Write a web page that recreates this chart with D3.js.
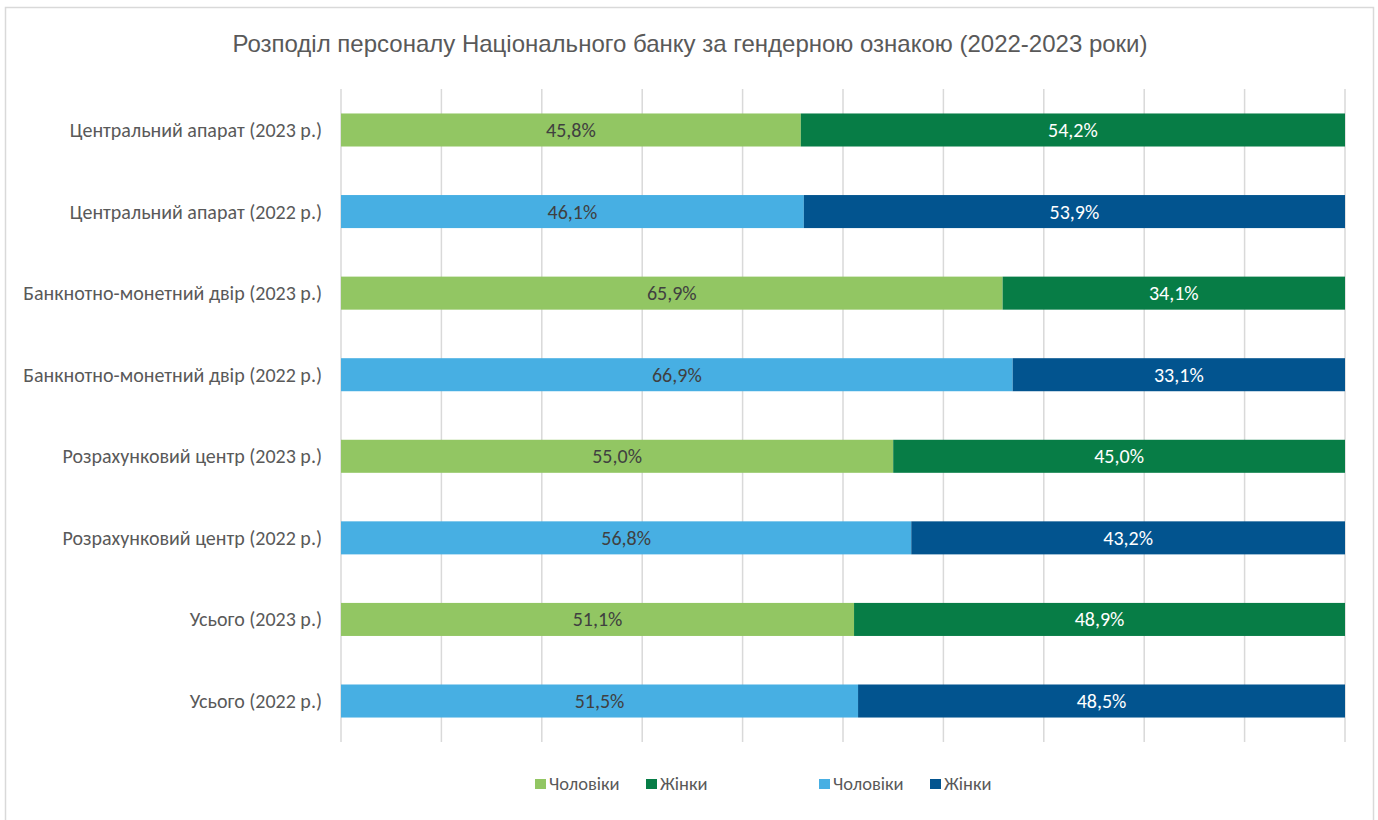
<!DOCTYPE html>
<html>
<head>
<meta charset="utf-8">
<script src="https://cdn.jsdelivr.net/npm/d3@7"></script>
<style>
  body { margin: 0; background: #fff; }
  svg { display: block; }
</style>
</head>
<body>
<div id="chart"></div>
<script>
// categories, top to bottom
var categories = [
  "Центральний апарат (2023 р.)",
  "Центральний апарат (2022 р.)",
  "Банкнотно-монетний двір (2023 р.)",
  "Банкнотно-монетний двір (2022 р.)",
  "Розрахунковий центр (2023 р.)",
  "Розрахунковий центр (2022 р.)",
  "Усього (2023 р.)",
  "Усього (2022 р.)"
];
var years = ["2023", "2022", "2023", "2022", "2023", "2022", "2023", "2022"];
var men = [45.8, 46.1, 65.9, 66.9, 55.0, 56.8, 51.1, 51.5];
var women = [54.2, 53.9, 34.1, 33.1, 45.0, 43.2, 48.9, 48.5];
var xTicks = [0, 10, 20, 30, 40, 50, 60, 70, 80, 90, 100];
var title = "Розподіл персоналу Національного банку за гендерною ознакою (2022-2023 роки)";
var legendItems = [
  {label: "Чоловіки", key: "men2023"},
  {label: "Жінки", key: "women2023"},
  {label: "Чоловіки", key: "men2022"},
  {label: "Жінки", key: "women2022"}
];

var colors = {
  men2023: "#92c663",
  women2023: "#077d46",
  men2022: "#47afe3",
  women2022: "#02548f"
};

var width = 1378, height = 820;
var svg = d3.select("#chart").append("svg").attr("width", width).attr("height", height);

// chart border
svg.append("rect")
    .attr("x", 5.5).attr("y", 7.5)
    .attr("width", 1368).attr("height", 830)
    .attr("fill", "#fff")
    .attr("stroke", "#d9d9d9")
    .attr("stroke-width", 1.5);

svg.append("text")
    .attr("x", 690).attr("y", 52)
    .attr("text-anchor", "middle")
    .attr("font-family", "'Liberation Sans', Arial, sans-serif")
    .attr("font-size", 24)
    .attr("fill", "#595959")
    .text(title);

var x = d3.scaleLinear().domain([0, 100]).range([341, 1345]);
var y = d3.scaleBand().domain(categories).range([89, 742]).paddingInner(0.595).paddingOuter(0.3);

// vertical gridlines
svg.append("g")
  .selectAll("line")
  .data(xTicks)
  .enter().append("line")
    .attr("x1", function(d) { return x(d); })
    .attr("x2", function(d) { return x(d); })
    .attr("y1", 89)
    .attr("y2", 742)
    .attr("stroke", "#d9d9d9")
    .attr("stroke-width", 1.5);

var rows = categories.map(function(c, i) {
  return {cat: c, year: years[i], men: men[i], women: women[i]};
});

var labelFont = "Carlito, Calibri, 'Open Sans', sans-serif";

// category labels
svg.append("g")
  .selectAll("text")
  .data(rows)
  .enter().append("text")
    .attr("x", 322)
    .attr("y", function(d) { return y(d.cat) + y.bandwidth() / 2; })
    .attr("dy", "0.35em")
    .attr("text-anchor", "end")
    .attr("font-family", labelFont)
    .attr("font-size", 20)
    .attr("fill", "#595959")
    .text(function(d) { return d.cat; });

var bars = svg.append("g");

// men segment
bars.selectAll("rect.men")
  .data(rows)
  .enter().append("rect")
    .attr("class", "men")
    .attr("x", x(0))
    .attr("y", function(d) { return y(d.cat); })
    .attr("width", function(d) { return x(d.men) - x(0); })
    .attr("height", y.bandwidth())
    .attr("fill", function(d) { return colors["men" + d.year]; });

// women segment
bars.selectAll("rect.women")
  .data(rows)
  .enter().append("rect")
    .attr("class", "women")
    .attr("x", function(d) { return x(d.men); })
    .attr("y", function(d) { return y(d.cat); })
    .attr("width", function(d) { return x(d.men + d.women) - x(d.men); })
    .attr("height", y.bandwidth())
    .attr("fill", function(d) { return colors["women" + d.year]; });

function fmt(v) { return v.toFixed(1).replace(".", ",") + "%"; }

bars.selectAll("text.men")
  .data(rows)
  .enter().append("text")
    .attr("x", function(d) { return x(d.men / 2); })
    .attr("y", function(d) { return y(d.cat) + y.bandwidth() / 2; })
    .attr("dy", "0.35em")
    .attr("text-anchor", "middle")
    .attr("font-family", labelFont)
    .attr("font-size", 20)
    .attr("fill", "#404040")
    .text(function(d) { return fmt(d.men); });

bars.selectAll("text.women")
  .data(rows)
  .enter().append("text")
    .attr("x", function(d) { return x(d.men + d.women / 2); })
    .attr("y", function(d) { return y(d.cat) + y.bandwidth() / 2; })
    .attr("dy", "0.35em")
    .attr("text-anchor", "middle")
    .attr("font-family", labelFont)
    .attr("font-size", 20)
    .attr("fill", "#ffffff")
    .text(function(d) { return fmt(d.women); });

// legend, two pairs as in the original
var legendX = [535, 646, 819, 930];
var legend = svg.append("g")
  .selectAll("g")
  .data(legendItems)
  .enter().append("g")
    .attr("transform", function(d, i) { return "translate(" + legendX[i] + ",779)"; });

legend.append("rect")
    .attr("width", 11).attr("height", 10)
    .attr("fill", function(d) { return colors[d.key]; });

legend.append("text")
    .attr("x", 14).attr("y", 5)
    .attr("dy", "0.35em")
    .attr("font-family", labelFont)
    .attr("font-size", 18.5)
    .attr("fill", "#595959")
    .text(function(d) { return d.label; });
</script>
</body>
</html>
